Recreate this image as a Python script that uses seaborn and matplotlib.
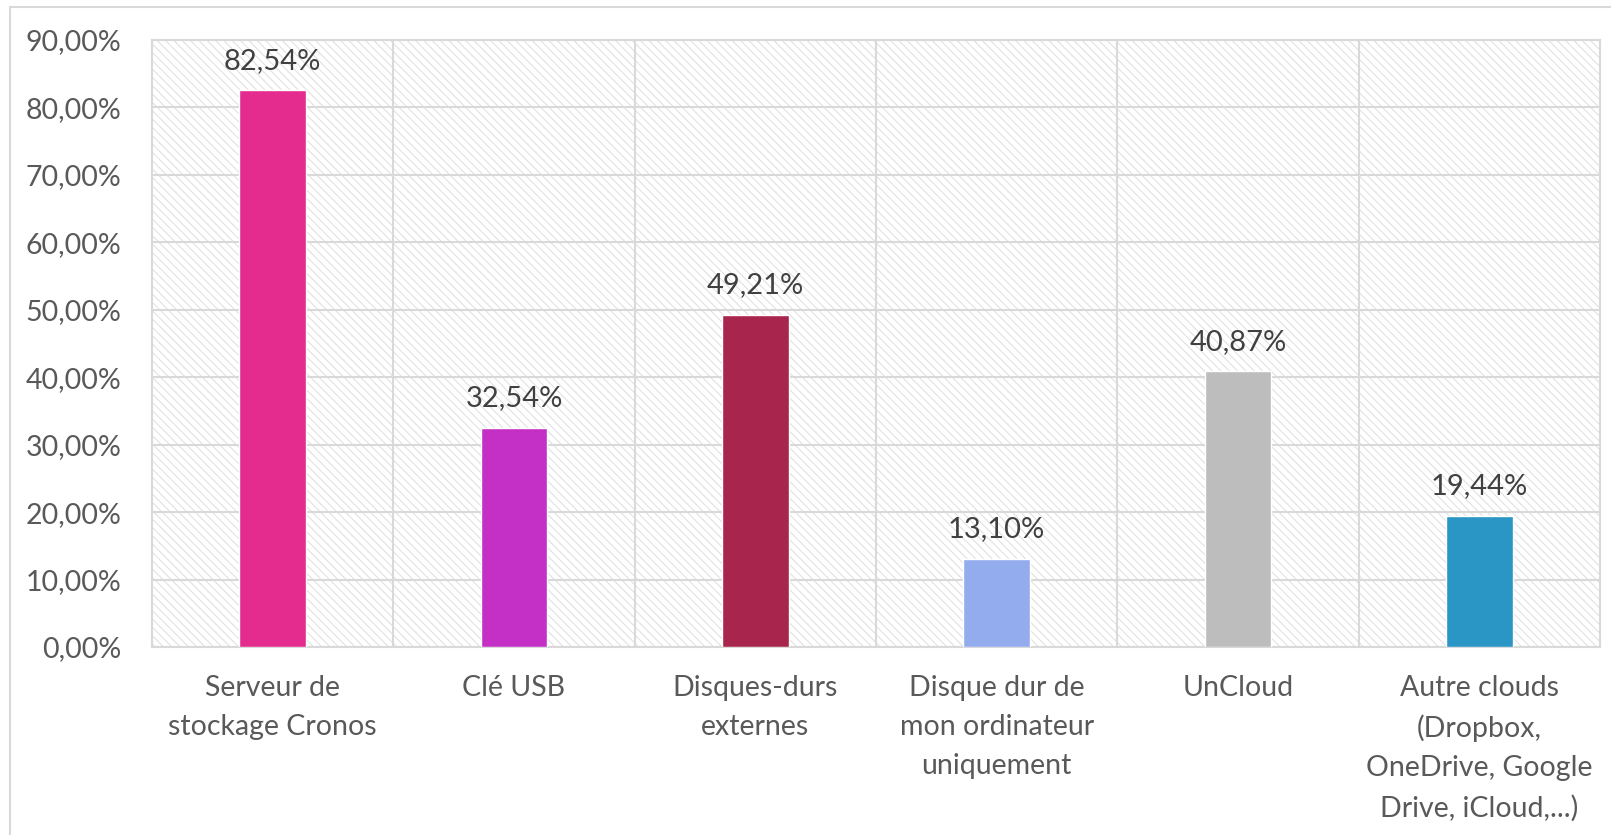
import numpy as np
import pandas as pd
import matplotlib
matplotlib.use("Agg")
import matplotlib.pyplot as plt
from matplotlib.lines import Line2D
from matplotlib.ticker import FuncFormatter, FixedLocator
import seaborn as sns

# Data
categories = ["Serveur de\nstockage Cronos",
              "Clé USB",
              "Disques-durs\nexternes",
              "Disque dur de\nmon ordinateur\nuniquement",
              "UnCloud",
              "Autre clouds\n(Dropbox,\nOneDrive, Google\nDrive, iCloud,...)"]
values = [0.8254, 0.3254, 0.4921, 0.1310, 0.4087, 0.1944]
colors = ["#E32C8E", "#C430C6", "#A8264D", "#93ACEE", "#BDBDBD", "#2A96C5"]
yticks = [0.0, 0.1, 0.2, 0.3, 0.4, 0.5, 0.6, 0.7, 0.8, 0.9]

df = pd.DataFrame({"cat": categories, "val": values})


def pct(v, pos=None):
    return "{:.2f}%".format(v * 100).replace(".", ",")


sns.set_theme(style="white")
plt.rcParams["font.family"] = ["Lato", "DejaVu Sans"]
plt.rcParams["hatch.color"] = "#DEDEDE"
plt.rcParams["hatch.linewidth"] = 0.7

fig = plt.figure(figsize=(16.11, 8.35), dpi=100)
ax = fig.add_axes([152 / 1611, 1 - 647 / 835, 1448 / 1611, 607 / 835])

# Hatched plot area background
ax.patch.set_facecolor("white")
ax.patch.set_hatch("\\\\\\\\")
ax.patch.set_edgecolor("#DEDEDE")

sns.barplot(data=df, x="cat", y="val", hue="cat", palette=colors,
            legend=False, width=0.275, saturation=1, ax=ax, zorder=3)

for cont in ax.containers:
    ax.bar_label(cont, labels=[pct(b.get_height()) for b in cont],
                 padding=12, fontsize=21, color="#404040", zorder=4)

ax.set_ylim(0, 0.9)
ax.set_xlim(-0.5, 5.5)
ax.yaxis.set_major_locator(FixedLocator(yticks))
ax.yaxis.set_major_formatter(FuncFormatter(pct))
ax.xaxis.set_minor_locator(FixedLocator(np.arange(0.5, 5.5, 1)))

ax.set_axisbelow(True)
ax.grid(axis="y", which="major", color="#D9D9D9", linewidth=1.5)
ax.grid(axis="x", which="minor", color="#D9D9D9", linewidth=1.5)
ax.grid(axis="x", which="major", visible=False)

for s in ax.spines.values():
    s.set_color("#D9D9D9")
    s.set_linewidth(1.5)

ax.tick_params(axis="y", length=0, pad=22, labelsize=20.5, labelcolor="#595959")
ax.tick_params(axis="x", which="both", length=0, pad=20, labelsize=20.5,
               labelcolor="#595959")
ax.set_xlabel("")
ax.set_ylabel("")
for lbl in ax.get_xticklabels():
    lbl.set_linespacing(1.62)

# Outer chart border (left and top visible)
fig.add_artist(Line2D([10 / 1611, 10 / 1611], [0, 1 - 7 / 835],
                      transform=fig.transFigure, color="#D9D9D9", lw=1.5))
fig.add_artist(Line2D([10 / 1611, 1], [1 - 7 / 835, 1 - 7 / 835],
                      transform=fig.transFigure, color="#D9D9D9", lw=1.5))

fig.savefig("out.png", dpi=100)
